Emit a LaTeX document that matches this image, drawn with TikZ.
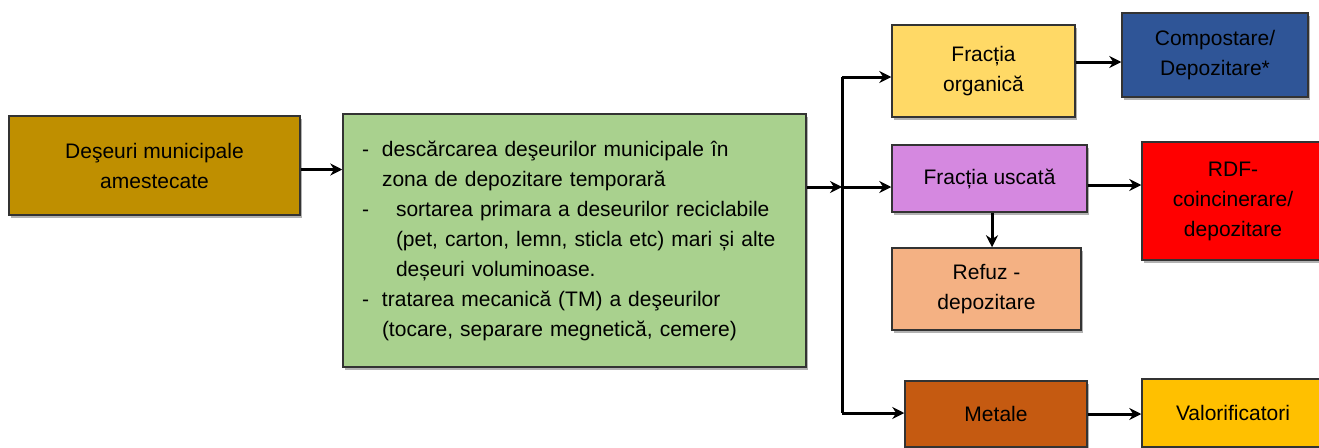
\documentclass[tikz,border=0pt]{standalone}
\usepackage{fontspec}
\setmainfont{Liberation Sans}
\usetikzlibrary{shadows, arrows.meta}

\definecolor{mixedcol}{HTML}{BF8F00}
\definecolor{treatcol}{HTML}{A9D18E}
\definecolor{organiccol}{HTML}{FFD966}
\definecolor{compostcol}{HTML}{2F5597}
\definecolor{drycol}{HTML}{D588E0}
\definecolor{rejectcol}{HTML}{F4B183}
\definecolor{rdfcol}{HTML}{FF0000}
\definecolor{metalcol}{HTML}{C55A11}
\definecolor{recovcol}{HTML}{FFC000}

\begin{document}
\begin{tikzpicture}
            [x=1pt, y=-1pt, >={Stealth[length=12pt, width=12pt]},
             box/.style={draw=black!80, line width=1.5pt, align=center, inner sep=4pt,
                         font=\fontsize{21}{30}\selectfont,
                         drop shadow={shadow xshift=1.5pt, shadow yshift=-2.5pt, fill=black!60}},
             flow/.style={->, draw=black, line width=3pt},
             spine/.style={draw=black, line width=3pt}]
            \useasboundingbox (0, 0) rectangle (1319, 447);

            \node[box,fill=mixedcol,minimum width=291,minimum height=99] (mixed) at (154.5, 165.5) {Deşeuri municipale\\amestecate};
            \node[box,fill=treatcol,minimum width=463,minimum height=253,text width=425,inner xsep=19pt,align=left] (treat) at (574.5, 240.5) {%
                \makebox[20pt][l]{-}descărcarea deşeurilor municipale în\\
                \hspace*{20pt}zona de depozitare temporară\\
                \makebox[34pt][l]{-}sortarea primara  a deseurilor reciclabile\\
                \hspace*{34pt}(pet, carton, lemn, sticla etc) mari și alte\\
                \hspace*{34pt}deșeuri  voluminoase.\\
                \makebox[20pt][l]{-}tratarea mecanică (TM) a deşeurilor\\
                \hspace*{20pt}(tocare, separare megnetică, cemere)\\[8pt]};
            \node[box,fill=organiccol,minimum width=183,minimum height=92] (organic) at (983.5, 71) {Fracția\\organică};
            \node[box,fill=compostcol,minimum width=186,minimum height=84] (compost) at (1215, 55) {Compostare/\\Depozitare*};
            \node[box,fill=drycol,minimum width=195,minimum height=67] (dry) at (989.5, 178.5) {Fracția uscată};
            \node[box,fill=rejectcol,minimum width=189,minimum height=82] (reject) at (986.5, 289) {Refuz -\\depozitare};
            \node[box,fill=rdfcol,minimum width=182,minimum height=118] (rdf) at (1233, 201) {RDF-\\coincinerare/\\depozitare};
            \node[box,fill=metalcol,minimum width=182,minimum height=66] (metal) at (996, 414) {Metale};
            \node[box,fill=recovcol,minimum width=182,minimum height=68] (recov) at (1233, 413) {Valorificatori};

            \coordinate (split) at (842, 187);
            \coordinate (spinetop) at (842, 77);
            \coordinate (spinebot) at (842, 413);
            \coordinate (drop) at (992, 0);

            \draw[flow] ([yshift=-4pt]mixed.east) -- ([yshift=-4pt]mixed.east -| treat.west);
            \draw[flow] (treat.east |- split) -- (split);
            \draw[spine] (spinetop) -- (spinebot);
            \draw[flow] (spinetop) -- (spinetop -| organic.west);
            \draw[flow] (split) -- (split -| dry.west);
            \draw[flow] (spinebot) -- (spinebot -| metal.west);
            \draw[flow] ([yshift=9pt]organic.east) -- ([yshift=9pt]organic.east -| compost.west);
            \draw[flow] ([yshift=-6.5pt]dry.east) -- ([yshift=-6.5pt]dry.east -| rdf.west);
            \draw[flow] (drop |- dry.south) -- (drop |- reject.north);
            \draw[flow] (metal.east) -- (metal.east -| recov.west);
        \end{tikzpicture}
\end{document}
